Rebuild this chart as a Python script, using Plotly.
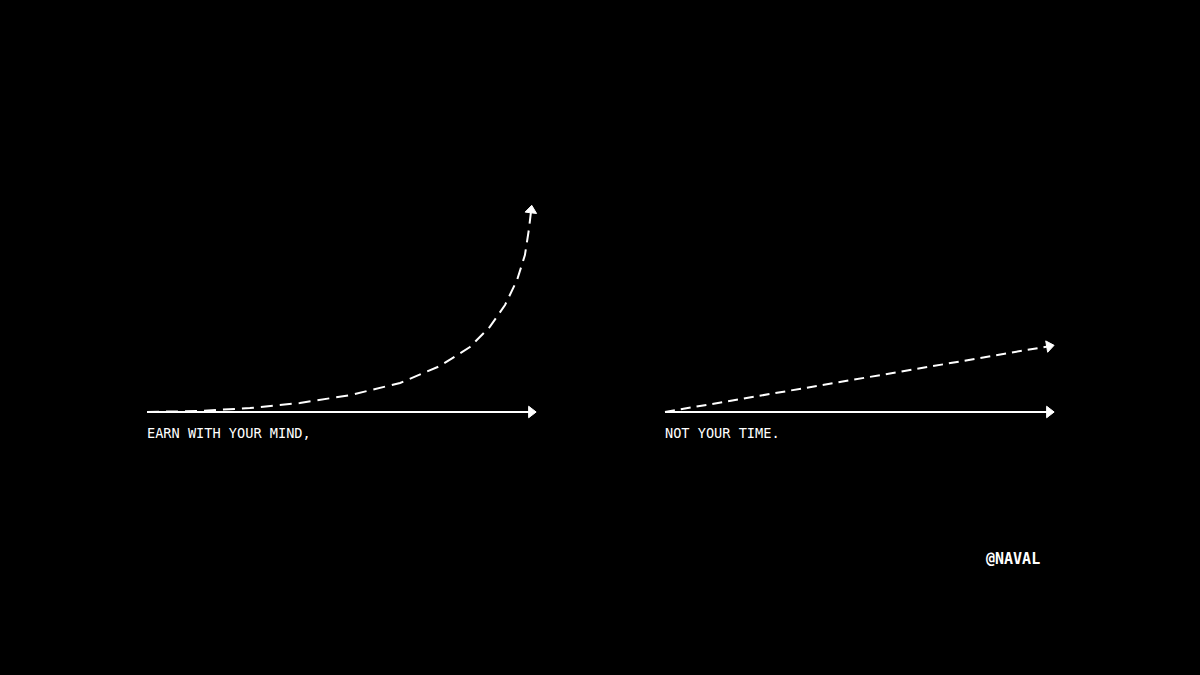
import plotly.graph_objects as go

# Left panel: exponential-like curve (x in axis units 0..10, y in height units)
curve_x = [0, 1.36, 2.64, 3.92, 5.21, 6.49, 7.51, 8.28, 8.79, 9.18, 9.49, 9.69, 9.79, 9.85]
curve_y = [0, 0.005, 0.019, 0.043, 0.081, 0.139, 0.22, 0.311, 0.407, 0.512, 0.632, 0.751, 0.871, 0.965]

# Right panel: linear line
line_x = [0, 9.85]
line_y = [0, 0.315]

axis_x = [0, 9.85]
axis_y = [0, 0]

label_left = "EARN WITH YOUR MIND,"
label_right = "NOT YOUR TIME."
signature = "@NAVAL"

W, H = 1200, 675
PX_X = 39.0     # pixels per x unit
PX_Y = 209.0    # pixels per y unit
BASE_Y = 412    # pixel row of baseline
LEFT0 = 147
RIGHT0 = 665

yr = [-(H - BASE_Y) / PX_Y, BASE_Y / PX_Y]
xr1 = [-LEFT0 / PX_X, (600 - LEFT0) / PX_X]
xr2 = [(600 - RIGHT0) / PX_X, (W - RIGHT0) / PX_X]

fig = go.Figure()

def arrow_sizes(n, s=10):
    return [0] * (n - 1) + [s]

for xa, ya, xs, ys, dash in [
    ("x", "y", axis_x, axis_y, "solid"),
    ("x", "y", curve_x, curve_y, "12px,7px"),
    ("x2", "y", axis_x, axis_y, "solid"),
    ("x2", "y", line_x, line_y, "10px,6px"),
]:
    fig.add_trace(go.Scatter(
        x=xs, y=ys, xaxis=xa, yaxis=ya,
        mode="lines+markers",
        line=dict(color="white", width=2, dash=dash),
        marker=dict(symbol="triangle-up", angleref="previous",
                    size=arrow_sizes(len(xs)), color="white", opacity=1,
                    line=dict(width=1, color="white")),
        cliponaxis=False, showlegend=False, hoverinfo="skip",
    ))

font_family = "DejaVu Sans Mono"
fig.add_annotation(x=0, y=-21 / PX_Y, xref="x", yref="y", text=label_left,
                   showarrow=False, xanchor="left", yanchor="middle", xshift=-2,
                   font=dict(family=font_family, size=13.6, color="white"))
fig.add_annotation(x=0, y=-21 / PX_Y, xref="x2", yref="y", text=label_right,
                   showarrow=False, xanchor="left", yanchor="middle", xshift=-2,
                   font=dict(family=font_family, size=13.6, color="white"))
fig.add_annotation(x=986 / W, y=1 - 559 / H, xref="paper", yref="paper", text="<b>" + signature + "</b>",
                   showarrow=False, xanchor="left", yanchor="middle", xshift=-2,
                   font=dict(family=font_family, size=15, color="white"))

axis_common = dict(visible=False, showgrid=False, zeroline=False, fixedrange=True)
fig.update_layout(
    width=W, height=H,
    margin=dict(l=0, r=0, t=0, b=0),
    paper_bgcolor="black", plot_bgcolor="black",
    xaxis=dict(domain=[0, 0.5], range=xr1, **axis_common),
    xaxis2=dict(domain=[0.5, 1], range=xr2, **axis_common),
    yaxis=dict(domain=[0, 1], range=yr, **axis_common),
)

fig.write_html("out.html", config={"displayModeBar": False},
               post_script="document.body.style.margin='0';document.body.style.background='black';document.body.style.overflow='hidden';")
